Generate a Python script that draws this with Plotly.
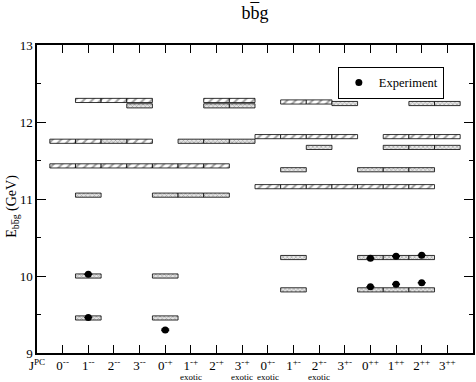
import plotly.graph_objects as go

# J^PC columns (x position 0 holds the "J^PC" header label)
jpc_labels = ["J<sup>PC</sup>",
              "0<sup>--</sup>", "1<sup>--</sup>", "2<sup>--</sup>", "3<sup>--</sup>",
              "0<sup>-+</sup>", "1<sup>-+</sup>", "2<sup>-+</sup>", "3<sup>-+</sup>",
              "0<sup>+-</sup>", "1<sup>+-</sup>", "2<sup>+-</sup>", "3<sup>+-</sup>",
              "0<sup>++</sup>", "1<sup>++</sup>", "2<sup>++</sup>", "3<sup>++</sup>"]
exotic_cols = [6, 8, 9, 11]

# lattice levels, light hatched boxes (column, energy in GeV)
light_col = [1, 1,
             2, 2, 2,
             3, 3,
             4, 4, 4,
             5,
             6,
             7, 7,
             8,
             9, 9,
             10, 10, 10,
             11, 11, 11,
             12, 12,
             13,
             14, 14,
             15, 15,
             16]
light_E = [11.75, 11.43,
           12.28, 11.75, 11.43,
           12.28, 11.43,
           12.28, 11.75, 11.43,
           11.43,
           11.43,
           12.28, 11.43,
           12.28,
           11.81, 11.16,
           12.26, 11.81, 11.16,
           12.26, 11.81, 11.16,
           11.81, 11.16,
           11.16,
           11.81, 11.16,
           11.81, 11.16,
           11.81]

# lattice levels, dense hatched boxes
dense_col = [2, 2, 2,
             3,
             4,
             5, 5, 5,
             6, 6,
             7, 7, 7,
             8, 8,
             10, 10, 10,
             11,
             12,
             13, 13, 13,
             14, 14, 14, 14,
             15, 15, 15, 15, 15,
             16, 16]
dense_E = [11.05, 10.00, 9.455,
           11.75,
           12.21,
           11.05, 10.00, 9.455,
           11.75, 11.05,
           12.21, 11.75, 11.05,
           12.21, 11.75,
           11.38, 10.24, 9.82,
           11.67,
           12.24,
           11.38, 10.24, 9.82,
           11.67, 11.38, 10.24, 9.82,
           12.24, 11.67, 11.38, 10.24, 9.82,
           12.24, 11.67]

# experimental masses
exp_col = [2, 2, 5, 13, 13, 14, 14, 15, 15]
exp_E = [10.023, 9.460, 9.300, 10.232, 9.859, 10.255, 9.893, 10.269, 9.912]
exp_err = [0.002, 0.002, 0.010, 0.002, 0.002, 0.002, 0.002, 0.002, 0.002]

HALF = 0.027  # half height of a level box
FONT = "Liberation Serif"


def level_bars(cols, energies, shape, size, fg, bg):
    return go.Bar(
        x=cols,
        y=[2 * HALF] * len(cols),
        base=[e - HALF for e in energies],
        width=1,
        marker=dict(
            color=bg,
            line=dict(color="black", width=0.8),
            pattern=dict(shape=shape, size=size, fgcolor=fg, bgcolor=bg,
                         solidity=0.35),
        ),
        showlegend=False,
        hoverinfo="skip",
    )


fig = go.Figure()
fig.add_trace(level_bars(light_col, light_E, "/", 6, "#444444", "white"))
fig.add_trace(level_bars(dense_col, dense_E, "x", 3, "#555555", "#e6e6e6"))

fig.add_trace(go.Scatter(
    x=exp_col, y=exp_E,
    mode="markers",
    marker=dict(color="black", size=7),
    error_y=dict(type="data", array=exp_err, color="black", width=4,
                 thickness=1.2),
    name="Experiment",
))

for c in exotic_cols:
    fig.add_annotation(x=c, y=-0.078, xref="x", yref="paper", text="exotic",
                       showarrow=False,
                       font=dict(size=9, family=FONT, color="black"),
                       yanchor="middle")

fig.add_annotation(x=-0.055, y=0.475, xref="paper", yref="paper",
                   xanchor="center", yanchor="middle",
                   text="E<sub>bb\u0305g</sub> (GeV)", textangle=-90,
                   showarrow=False,
                   font=dict(size=14, family=FONT, color="black"))

fig.update_layout(
    width=476, height=382,
    margin=dict(l=37, r=1, t=45, b=29),
    paper_bgcolor="white", plot_bgcolor="white",
    barmode="overlay",
    font=dict(family=FONT, color="black"),
    title=dict(text="bb\u0305g", x=0.5, xref="paper", y=0.968,
               yanchor="middle", font=dict(size=18, family=FONT)),
    legend=dict(x=0.69, y=0.929, xanchor="left", yanchor="top",
                bordercolor="black", borderwidth=1, bgcolor="white",
                font=dict(size=12.5, family=FONT)),
    xaxis=dict(range=[0, 17], tickvals=list(range(len(jpc_labels))),
               ticktext=jpc_labels, ticks="inside", ticklen=8,
               tickcolor="black", showline=True, linecolor="black",
               linewidth=1.5, mirror="ticks", showgrid=False, zeroline=False,
               tickfont=dict(size=13, family=FONT)),
    yaxis=dict(range=[9, 13], dtick=1, ticks="inside", ticklen=9,
               tickcolor="black", showline=True, linecolor="black",
               linewidth=1.5, mirror="ticks", showgrid=False, zeroline=False,
               minor=dict(dtick=0.5, ticks="inside", ticklen=4,
                          tickcolor="black", showgrid=False),
               tickfont=dict(size=13, family=FONT)),
)

# page margin off so the figure sits at the window's top-left corner
fig.write_html("out.html",
               config={"displayModeBar": False},
               post_script="document.body.style.margin='0';"
                           "document.body.style.overflow='hidden';")
